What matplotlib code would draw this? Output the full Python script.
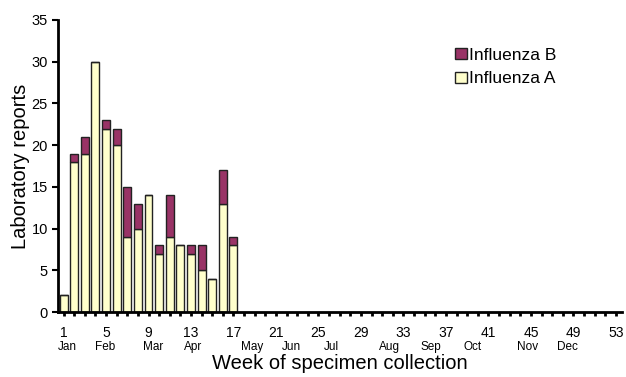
import matplotlib
import matplotlib.pyplot as plt
import matplotlib.transforms as mtransforms
matplotlib.use('Agg')

plt.rcParams['font.family'] = ['Liberation Sans', 'DejaVu Sans']

weeks = list(range(1, 18))
flu_a = [2, 18, 19, 30, 22, 20, 9, 10, 14, 7, 9, 8, 7, 5, 4, 13, 8]
flu_b = [0, 1, 2, 0, 1, 2, 6, 3, 0, 1, 5, 0, 1, 3, 0, 4, 1]

week_ticks = list(range(1, 54, 4))
months = ['Jan', 'Feb', 'Mar', 'Apr', 'May', 'Jun', 'Jul', 'Aug', 'Sep',
          'Oct', 'Nov', 'Dec']
month_pos = [1.4, 4.9, 9.4, 13.2, 18.8, 22.5, 26.2, 31.7, 35.6, 39.5, 44.7,
             48.4]

fig = plt.figure(figsize=(6.26, 3.77), dpi=100)
ax = fig.add_axes([0.093, 0.172, 0.901, 0.775])

ax.bar(weeks, flu_a, width=0.75, color='#FFFFCC', edgecolor='#222222',
       linewidth=1.0, label='Influenza A', zorder=2)
ax.bar(weeks, flu_b, width=0.75, bottom=flu_a, color='#993366',
       edgecolor='#222222', linewidth=1.0, label='Influenza B', zorder=2)

ax.set_xlim(0.5, 53.6)
ax.set_ylim(0, 35)
ax.set_yticks(range(0, 36, 5))
ax.set_xticks(week_ticks)
ax.set_xticks(range(1, 54), minor=True)

for side in ['top', 'right']:
    ax.spines[side].set_visible(False)
for side in ['left', 'bottom']:
    ax.spines[side].set_linewidth(2)

ax.tick_params(axis='y', direction='out', length=4, width=1.5,
               labelsize=10.5)
ax.tick_params(axis='x', which='both', direction='out', length=3,
               width=2, labelsize=10, pad=7)

# month labels under week numbers
trans = mtransforms.blended_transform_factory(ax.transData, ax.transAxes)
for m, pos in zip(months, month_pos):
    ax.text(pos, -0.1, m, transform=trans, ha='center', va='top',
            fontsize=8.5)

ax.set_xlabel('Week of specimen collection', fontsize=14.5, labelpad=10)
ax.set_ylabel('Laboratory reports', fontsize=14.5, labelpad=1)

handles, labels = ax.get_legend_handles_labels()
ax.legend(handles[::-1], labels[::-1], loc='upper left',
          bbox_to_anchor=(0.704, 0.905), frameon=False, fontsize=12.5,
          borderpad=0, borderaxespad=0,
          handlelength=0.65, handleheight=0.65, handletextpad=0.15,
          labelspacing=0.5)

plt.savefig('out.png', dpi=100)
